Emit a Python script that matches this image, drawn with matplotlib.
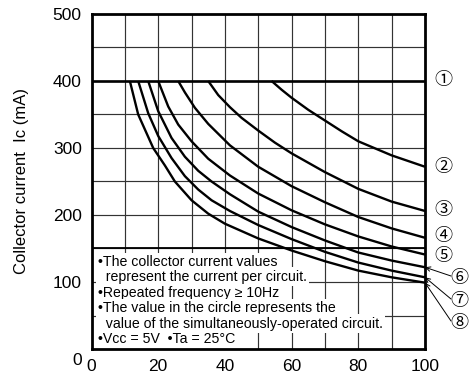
import matplotlib
matplotlib.use("Agg")
import matplotlib.pyplot as plt
import matplotlib.transforms as mtransforms

plt.rcParams['font.family'] = ['Liberation Sans', 'Noto Sans CJK JP', 'DejaVu Sans']

# ---- data ----
curve_labels = ['①', '②', '③', '④', '⑤', '⑥', '⑦', '⑧']

c1_x = [0, 100]
c1_y = [400, 400]

c2_x = [54, 57, 60, 65, 70, 75, 80, 90, 100]
c2_y = [400, 387, 375, 357, 341, 325, 310, 289, 272]

c3_x = [35, 38, 41.5, 45, 50, 55, 60, 70, 80, 90, 100]
c3_y = [400, 379, 361, 345, 326, 308, 292, 264, 239, 220, 206]

c4_x = [26, 28, 31, 35, 41.5, 50, 60, 70, 80, 90, 100]
c4_y = [400, 383, 360, 336, 304, 272, 243, 219, 197, 180, 166]

c5_x = [20, 23, 26, 30, 35, 41.5, 50, 60, 70, 80, 90, 100]
c5_y = [400, 362, 335, 310, 284, 259, 232, 207, 186, 168, 153, 141]

c6_x = [17, 20, 24, 28, 32, 36, 41.5, 50, 60, 70, 80, 90, 100]
c6_y = [400, 355, 315, 287, 266, 250, 231, 205, 182, 162, 144, 132, 122]

c7_x = [14, 17, 20, 24, 28, 32, 36, 41.5, 50, 60, 70, 80, 90, 100]
c7_y = [400, 352, 318, 285, 258, 238, 222, 206, 185, 164, 145, 129, 117, 107]

c8_x = [11.5, 14, 18.5, 22, 25, 30, 35, 40, 50, 60, 70, 80, 90, 100]
c8_y = [400, 350, 300, 274, 250, 222, 202, 187, 165, 147, 131, 117, 107, 99]

x_ticks = [0, 20, 40, 60, 80, 100]
y_ticks = [0, 100, 200, 300, 400, 500]

notes = [
    "•The collector current values",
    "  represent the current per circuit.",
    "•Repeated frequency ≥ 10Hz",
    "•The value in the circle represents the",
    "  value of the simultaneously-operated circuit.",
    "•Vcc = 5V  •Ta = 25°C",
]

# ---- figure ----
fig = plt.figure(figsize=(4.71, 3.73), dpi=100)
ax = fig.add_axes([91.5 / 471, 1 - 349 / 373, (425 - 91.5) / 471, (349 - 14) / 373])
ax.set_xlim(0, 100)
ax.set_ylim(0, 500)

# grid
for gx in range(10, 100, 10):
    ax.axvline(gx, color='#333333', lw=0.85, zorder=1)
for gy in range(50, 500, 50):
    ax.axhline(gy, color='#333333', lw=0.85, zorder=1)
ax.axhline(150, color='black', lw=1.3, zorder=2)

# curves
ax.plot(c1_x, c1_y, color='black', lw=1.9, zorder=4)
for cx, cy in [(c2_x, c2_y), (c3_x, c3_y), (c4_x, c4_y), (c5_x, c5_y),
               (c6_x, c6_y), (c7_x, c7_y), (c8_x, c8_y)]:
    ax.plot(cx, cy, color='black', lw=1.7, zorder=4, solid_capstyle='butt',
            solid_joinstyle='round')

# notes with white backgrounds
note_pos = [(1.9, 130), (1.9, 108), (1.9, 83), (1.9, 61), (1.9, 38), (1.9, 14.5)]
for (nx, ny), t in zip(note_pos, notes):
    ax.text(nx, ny, t, fontsize=10.2, va='center', ha='left', zorder=3,
            bbox=dict(facecolor='white', edgecolor='none', pad=1.6))

# circled labels
label_pos = [(443, 80), (443, 167), (443, 210), (443, 236.5), (443, 256.5),
             (459, 278), (459, 301), (459, 323)]
for (px, py), lab in zip(label_pos, curve_labels):
    fig.text(px / 471, 1 - py / 373, lab, fontsize=13, ha='center', va='center',
             family=['Noto Sans CJK JP', 'DejaVu Sans'])

# arrows for 6,7,8 to curve ends
arrow_targets = [c6_y[-1], c7_y[-1], c8_y[-1]]
arrow_starts = [(451, 276), (451, 299), (451, 321)]
for (sx, sy), ty in zip(arrow_starts, arrow_targets):
    ax.annotate('', xy=(100, ty), xycoords='data',
                xytext=(sx / 471, 1 - sy / 373), textcoords='figure fraction',
                arrowprops=dict(arrowstyle='->', color='black', lw=0.7,
                                shrinkA=0, shrinkB=0, mutation_scale=8),
                annotation_clip=False, zorder=5)

# ticks
ax.set_xticks(x_ticks)
ax.set_yticks(y_ticks)
ax.tick_params(length=0, labelsize=12.5, pad=7)
ax.set_ylabel('Collector current  Ic (mA)', fontsize=12, labelpad=17)
# "0" on the y axis sits a little lower in the reference
lbl0 = ax.get_yticklabels()[0]
lbl0.set_transform(lbl0.get_transform() +
                   mtransforms.ScaledTranslation(0, -10 / 100, fig.dpi_scale_trans))

for s in ax.spines.values():
    s.set_linewidth(2.0)
    s.set_zorder(6)

fig.savefig('out.png', dpi=100)
